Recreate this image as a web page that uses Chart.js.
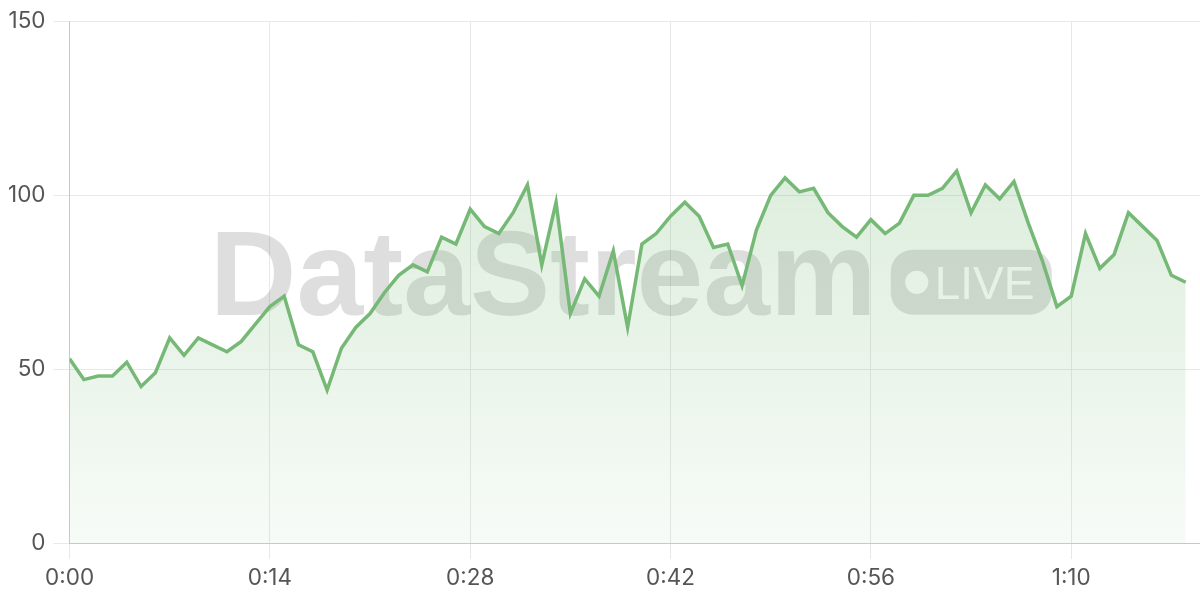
<!DOCTYPE html>
<html>
<head>
<meta charset="utf-8">
<script src="https://cdn.jsdelivr.net/npm/chart.js@4/dist/chart.umd.min.js"></script>
<style>
  html, body { margin: 0; padding: 0; background: #fff; }
  #wrap { width: 1200px; height: 600px; position: relative; }
</style>
</head>
<body>
<div id="wrap"><canvas id="chart"></canvas></div>
<script>
// one reading per second
const values = [
    53, 47, 48, 48, 52, 45, 49, 59, 54, 59,
    57, 55, 58, 63, 68, 71, 57, 55, 44, 56,
    62, 66, 72, 77, 80, 78, 88, 86, 96, 91,
    89, 95, 103, 80, 98, 66, 76, 71, 84, 62,
    86, 89, 94, 98, 94, 85, 86, 74, 90, 100,
    105, 101, 102, 95, 91, 88, 93, 89, 92, 100,
    100, 102, 107, 95, 103, 99, 104, 92, 81, 68,
    71, 89, 79, 83, 95, 91, 87, 77, 75
];
const seconds = values.map((v, i) => i);
const tickSeconds = [0, 14, 28, 42, 56, 70];
const yTicks = [0, 50, 100, 150];
const watermarkText = "DataStream";
const badgeText = "LIVE";

const lineColor = "rgb(118, 185, 118)";
const labelFont = { family: "Inter, 'Helvetica Neue', Arial, sans-serif", size: 22.5 };

function toClock(sec) {
    const m = Math.floor(sec / 60);
    const s = sec % 60;
    return m + ":" + String(s).padStart(2, "0");
}

function areaGradient(context) {
    const { ctx, chartArea } = context.chart;
    if (!chartArea) return null;
    const g = ctx.createLinearGradient(0, chartArea.top, 0, chartArea.bottom);
    g.addColorStop(0, "rgba(118, 185, 118, 0.32)");
    g.addColorStop(1, "rgba(118, 185, 118, 0.06)");
    return g;
}

// big faded logo behind the line
const watermark = {
    id: "watermark",
    beforeDatasetsDraw(chart) {
        const { ctx, chartArea: a } = chart;
        const cx = (a.left + a.right) / 2;
        const cy = (a.top + a.bottom) / 2;
        const pillW = 161, pillH = 65, gap = 14;

        ctx.save();
        ctx.font = "bold 120px 'Liberation Sans', Arial, sans-serif";
        const tw = ctx.measureText(watermarkText).width;
        const x0 = cx - (tw + gap + pillW) / 2 - 4;
        ctx.fillStyle = "rgba(0, 0, 0, 0.13)";
        ctx.textBaseline = "alphabetic";
        ctx.fillText(watermarkText, x0, cy + pillH / 2);

        const px = x0 + tw + gap;
        ctx.beginPath();
        ctx.roundRect(px, cy - pillH / 2, pillW, pillH, 22);
        ctx.fill();

        ctx.fillStyle = "#fff";
        ctx.beginPath();
        ctx.arc(px + 26, cy, 11.5, 0, Math.PI * 2);
        ctx.fill();
        ctx.font = "46px 'Liberation Sans', Arial, sans-serif";
        ctx.fillText(badgeText, px + 44, cy + 16.5);
        ctx.restore();
    }
};

new Chart("chart", {
    type: "line",
    data: {
        labels: seconds,
        datasets: [{
            data: values.map((v, i) => ({ x: seconds[i], y: v })),
            borderColor: lineColor,
            borderWidth: 3.5,
            backgroundColor: areaGradient,
            fill: "origin",
            pointRadius: 0,
            tension: 0
        }]
    },
    options: {
        responsive: true,
        maintainAspectRatio: false,
        animation: false,
        layout: { padding: { top: 4, right: 0, bottom: 2, left: 0 } },
        plugins: {
            legend: { display: false },
            tooltip: { enabled: false }
        },
        scales: {
            x: {
                type: "linear",
                min: 0,
                max: 79,
                afterBuildTicks: scale => {
                    scale.ticks = tickSeconds.map(v => ({ value: v }));
                },
                ticks: {
                    color: "#555",
                    font: labelFont,
                    padding: 6,
                    maxRotation: 0,
                    autoSkip: false,
                    callback: value => toClock(value)
                },
                grid: { color: "#e8e8e8", tickLength: 16 },
                border: { color: "#c8c8c8" }
            },
            y: {
                min: 0,
                max: 150,
                afterBuildTicks: scale => {
                    scale.ticks = yTicks.map(v => ({ value: v }));
                },
                ticks: {
                    color: "#555",
                    font: labelFont,
                    padding: 8
                },
                grid: { color: "#e8e8e8", tickLength: 16 },
                border: { color: "#c8c8c8" }
            }
        }
    },
    plugins: [watermark]
});
</script>
</body>
</html>
